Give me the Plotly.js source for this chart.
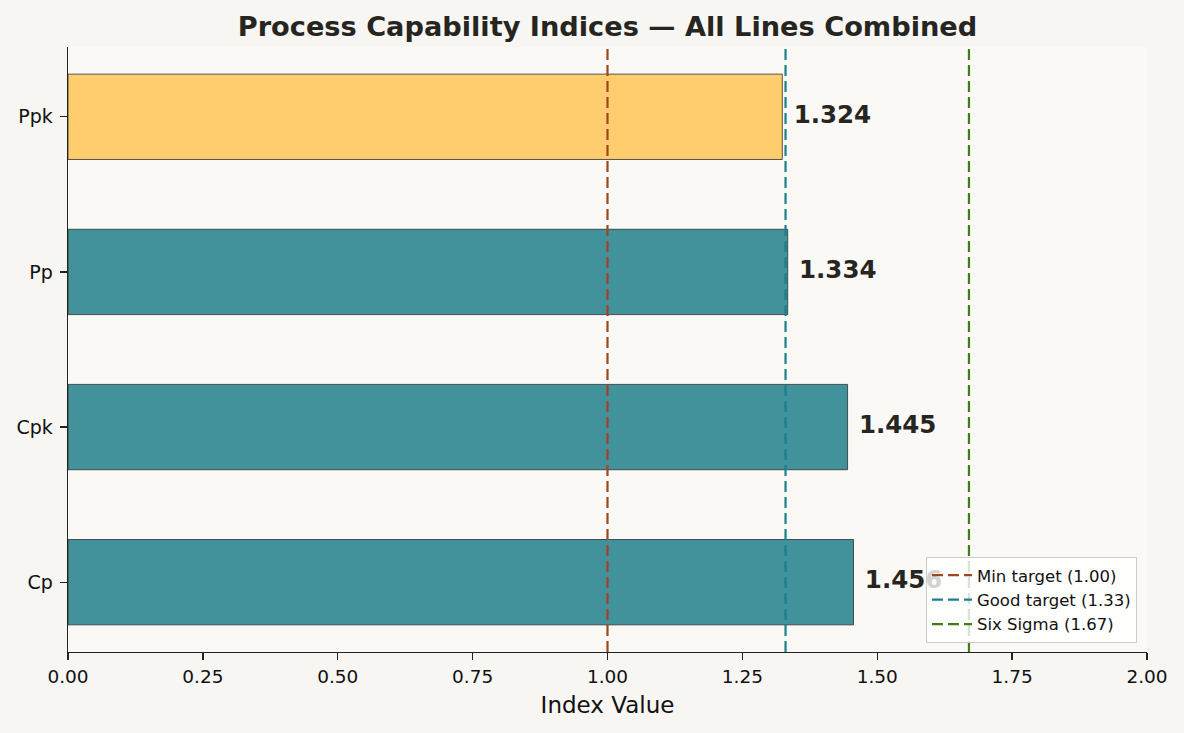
<!DOCTYPE html>
<html>
<head>
<meta charset="utf-8">
<script src="https://cdn.plot.ly/plotly-3.0.1.min.js"></script>
<style>
  html, body { margin: 0; padding: 0; background: #f7f6f2; }
  #chart { width: 1184px; height: 733px; }
</style>
</head>
<body>
<div id="chart"></div>
<script>
// Capability indices, bottom to top
const indices = ["Cp", "Cpk", "Pp", "Ppk"];
const indexValues = [1.456, 1.445, 1.334, 1.324];
const barColors = ["#41929b", "#41929b", "#41929b", "#ffcc6e"];

// Reference targets
const targetNames = ["Min target (1.00)", "Good target (1.33)", "Six Sigma (1.67)"];
const targetValues = [1.00, 1.33, 1.67];
const targetColors = ["#a0461e", "#1a7f8e", "#3e7e1a"];

const yRange = [-0.45, 3.45];

const traces = [];

traces.push({
  type: "bar",
  orientation: "h",
  x: indexValues,
  y: indices,
  width: 0.55,
  marker: { color: barColors, line: { color: "#2e2e2e", width: 0.8 } },
  showlegend: false,
  hoverinfo: "x+y"
});

// Value labels to the right of each bar
traces.push({
  type: "scatter",
  mode: "text",
  x: indexValues.map(v => v + 0.021),
  y: indices,
  text: indexValues.map(v => v.toFixed(3)),
  textposition: "middle right",
  textfont: { family: "DejaVu Sans", size: 24.5, color: "#26251f", weight: "bold" },
  showlegend: false,
  hoverinfo: "skip",
  cliponaxis: false
});

// Dashed reference lines spanning the full height
targetValues.forEach((v, i) => {
  traces.push({
    type: "scatter",
    mode: "lines",
    x: [v, v],
    y: [0, 1],
    yaxis: "y2",
    name: targetNames[i],
    legendgroup: "g" + i,
    line: { color: targetColors[i], width: 2.2, dash: "11px,5px" },
    hoverinfo: "name"
  });
});

const layout = {
  width: 1184,
  height: 733,
  paper_bgcolor: "#f7f6f2",
  plot_bgcolor: "#faf9f6",
  margin: { l: 68, r: 37, t: 47, b: 81 },
  font: { family: "DejaVu Sans", color: "#111111", size: 19 },
  title: {
    text: "<b>Process Capability Indices — All Lines Combined</b>",
    font: { family: "DejaVu Sans", size: 27.2, color: "#26251f" },
    x: 0.5 + (68 - 37) / 2 / 1184,
    xanchor: "center",
    y: 1 - 26 / 733,
    yanchor: "middle"
  },
  xaxis: {
    range: [0, 2],
    tickvals: [0, 0.25, 0.5, 0.75, 1.0, 1.25, 1.5, 1.75, 2.0],
    ticktext: ["0.00", "0.25", "0.50", "0.75", "1.00", "1.25", "1.50", "1.75", "2.00"],
    ticks: "outside",
    ticklen: 7,
    tickcolor: "#222",
    tickwidth: 1.3,
    showline: true,
    linecolor: "#222",
    linewidth: 1.4,
    showgrid: false,
    zeroline: false,
    tickfont: { size: 18.5, color: "#111" },
    title: { text: "Index Value", font: { size: 23, color: "#111" }, standoff: 11 }
  },
  yaxis: {
    type: "category",
    categoryorder: "array",
    categoryarray: indices,
    range: yRange,
    ticks: "outside",
    ticklen: 7,
    tickcolor: "#222",
    tickwidth: 1.3,
    showline: true,
    linecolor: "#222",
    linewidth: 1.4,
    showgrid: false,
    zeroline: false,
    tickfont: { size: 19, color: "#111" },
    ticklabelstandoff: 3
  },
  yaxis2: {
    overlaying: "y",
    range: [0, 1],
    visible: false,
    fixedrange: true
  },
  showlegend: true,
  legend: {
    x: 0.9907,
    y: 0.015,
    xanchor: "right",
    yanchor: "bottom",
    bgcolor: "rgba(255,255,255,0.8)",
    bordercolor: "#cccccc",
    borderwidth: 1,
    font: { family: "DejaVu Sans", size: 16.5, color: "#111" },
    tracegroupgap: 3,
    itemwidth: 40,
    traceorder: "normal"
  },
  bargap: 0.45
};

Plotly.newPlot("chart", traces, layout, { displayModeBar: false, staticPlot: true });
</script>
</body>
</html>
